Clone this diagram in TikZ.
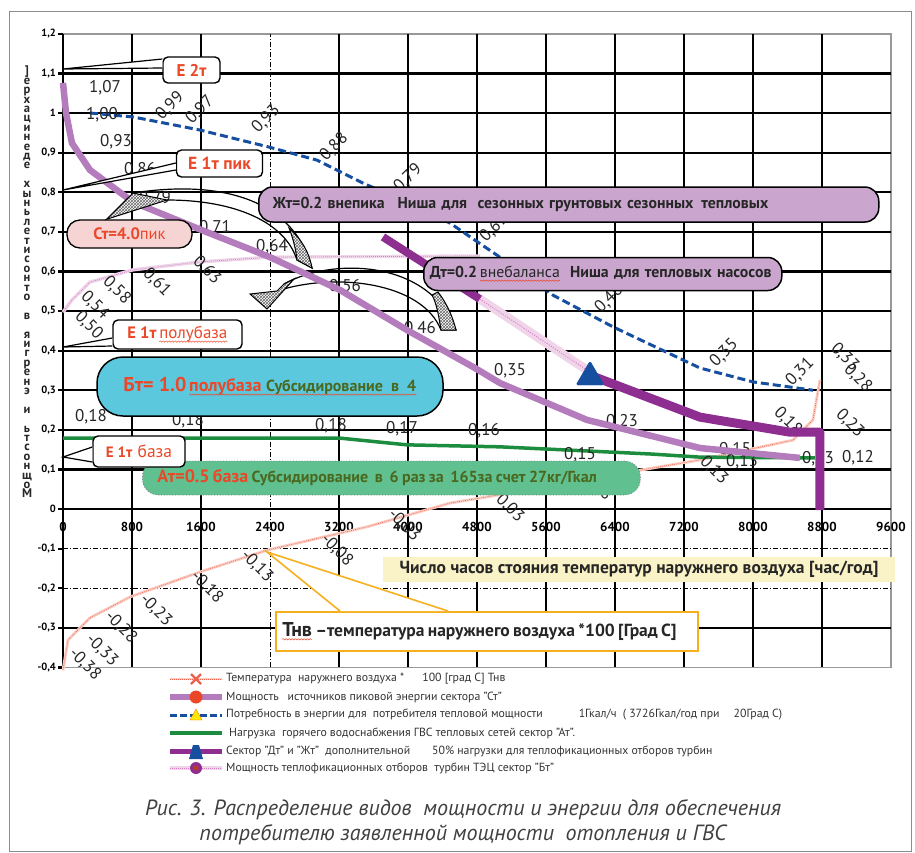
\documentclass[tikz,border=0pt]{standalone}
\usepackage{fontspec}
\setmainfont{PT Sans}
\usetikzlibrary{positioning,calc,patterns,decorations.pathmorphing}

\definecolor{peakPurple}{RGB}{180,124,188}
\definecolor{demandBlue}{RGB}{22,78,160}
\definecolor{gvsGreen}{RGB}{28,140,62}
\definecolor{extraPurple}{RGB}{142,46,144}
\definecolor{tecPink}{RGB}{240,212,234}
\definecolor{tecPinkDot}{RGB}{214,130,196}
\definecolor{tempSalmon}{RGB}{250,204,194}
\definecolor{tempRed}{RGB}{236,96,76}
\definecolor{calloutRed}{RGB}{234,72,40}
\definecolor{subsGreen}{RGB}{74,104,30}
\definecolor{lavBox}{RGB}{202,166,206}
\definecolor{cyanBox}{RGB}{92,200,222}
\definecolor{greenBox}{RGB}{96,192,144}
\definecolor{pinkBox}{RGB}{246,212,212}
\definecolor{yellowBox}{RGB}{250,243,200}
\definecolor{tnvOrange}{RGB}{246,176,30}

% red wavy underline (inner node reset so it does not inherit the box options)
\newcommand\wavy[1]{\tikz[baseline=(w.base)]{\node[shape=rectangle, draw=none, fill=none, inner sep=0pt, outer sep=0pt,
    minimum width=0pt, minimum height=0pt, text width=, align=none, rotate=0] (w) {#1};
  \draw[solid, sharp corners, calloutRed, line width=0.5pt, fill=none, decorate,
        decoration={snake,amplitude=0.7pt,segment length=3pt}]
    ([yshift=-2.8pt]w.base west) -- ([yshift=-2.8pt]w.base east);}}

\tikzset{
  GridLine/.style = {line width=2.2pt, black},
  GridDash/.style = {line width=0.6pt, black, dash pattern=on 5pt off 2pt on 1pt off 2pt},
  FrameLine/.style = {line width=1.6pt, black!40},
  YTick/.style = {anchor=east, inner sep=0pt, font=\fontsize{10.5}{10.5}\selectfont\bfseries},
  XTick/.style = {inner sep=0pt, font=\fontsize{13}{13}\selectfont\bfseries},
  YTitle/.style = {align=center, inner sep=0pt, font=\fontsize{12.5}{9.4}\selectfont\bfseries, text=black!85},
  ValLabel/.style = {inner sep=0pt, font=\fontsize{17}{17}\selectfont, text=black!85},
  RotUp/.style = {ValLabel, rotate=45},
  RotDown/.style = {ValLabel, rotate=-45},
  TempLine/.style = {preaction={draw=tempSalmon, line width=2.8pt}, draw=tempRed, line width=0.6pt, dash pattern=on 0.8pt off 1.2pt},
  TecLine/.style = {preaction={draw=tecPink, line width=3.4pt}, draw=tecPinkDot, line width=0.7pt, dash pattern=on 0.8pt off 1.2pt},
  TecBand/.style = {preaction={draw=tecPink, line width=9pt}, draw=tecPinkDot, line width=1pt, dash pattern=on 1pt off 1.5pt},
  PeakLine/.style = {peakPurple, line width=6.5pt, line join=round},
  DemandLine/.style = {demandBlue, line width=3pt, dash pattern=on 8pt off 4pt},
  GvsLine/.style = {gvsGreen, line width=3.5pt, line join=round},
  ExtraLine/.style = {extraPurple, line width=9pt, line join=round},
  ArcLine/.style = {black, line width=1.2pt},
  HatchArrow/.style = {draw=black, line width=1pt, preaction={fill=white}, pattern=crosshatch, pattern color=black!60},
  NicheBox/.style = {draw=black, line width=1.5pt, fill=lavBox, rounded corners=14pt, anchor=west, align=left,
                     inner xsep=14pt, inner ysep=0pt, font=\fontsize{15.8}{16}\selectfont\bfseries, text=black!85},
  CallBox/.style = {draw=black, line width=1.4pt, fill=white, rounded corners=5pt, inner sep=0pt, text=calloutRed},
  CallTail/.style = {draw=black, line width=1.2pt, fill=white},
  LegText/.style = {anchor=west, inner sep=0pt, font=\fontsize{11.8}{11.8}\selectfont, text=black!80},
}

\begin{document}
\begin{tikzpicture}[x=1pt,y=-1pt]
\useasboundingbox (0,0) rectangle (915,852);
\draw[black!45, line width=0.8pt] (9,11) rectangle (911,851);

% chart in data units: hours / relative power
\begin{scope}[shift={(63pt,-509pt)}, x=0.08625pt, y=396pt]
  \draw[FrameLine] (0,-0.4) rectangle (9600,1.2);
  \foreach \h in {800,1600,3200,4000,4800,5600,6400,7200,8000,8800}
    \draw[GridLine] (\h,-0.4) -- (\h,1.2);
  \draw[GridDash] (2400,-0.4) -- (2400,1.2);
  \foreach \k in {1,...,11}
    \draw[GridLine] (0,\k/10) -- (9600,\k/10);
  \draw[GridLine] (0,-0.3) -- (9600,-0.3);
  \foreach \k in {1,2}
    \draw[GridDash] (0,-\k/10) -- (9600,-\k/10);
  \foreach \k in {-4,...,12}
    \draw[GridLine] (-55,\k/10) -- (0,\k/10);
  \draw[GridLine, line width=2.6pt] (0,-0.4) -- (0,1.2);
  \draw[GridLine, line width=2.6pt] (0,0) -- (9600,0);

  \foreach \k/\t in {12/{1,2},11/{1,1},10/1,9/{0,9},8/{0,8},7/{0,7},6/{0,6},5/{0,5},4/{0,4},3/{0,3},2/{0,2},1/{0,1},0/0,-1/{-0,1},-2/{-0,2},-3/{-0,3},-4/{-0,4}}
    \node[YTick] (yt\k) at (-80,\k/10) {\t};
  \foreach \h in {0,800,...,9600}
    \node[XTick] (xt\h) at (\h,-0.045) {\h};

  % series
  \draw[TempLine] plot coordinates {(0,-0.407) (58,-0.331) (197,-0.30) (313,-0.275) (777,-0.222) (1588,-0.159)
    (2365,-0.104) (3525,-0.045) (4487,0.015) (5530,0.053) (6690,0.098) (7386,0.124) (8464,0.174) (8696,0.225) (8777,0.326)};
  \draw[TecLine] plot coordinates {(0,0.497) (104,0.528) (313,0.573) (812,0.604) (1588,0.624) (2400,0.636) (4835,0.639)};
  \draw[GvsLine] plot coordinates {(0,0.179) (3212,0.179) (3988,0.162) (5067,0.157) (6806,0.139) (7386,0.131) (8719,0.129)};
  \draw[DemandLine] plot coordinates {(313,1.0) (812,0.99) (1588,0.957) (2388,0.914) (2945,0.881) (3478,0.823) (4104,0.763)
    (4487,0.722) (5032,0.641) (5681,0.540) (6377,0.460) (7386,0.356) (8000,0.321) (8696,0.30)};
\end{scope}

% value labels
\foreach \px/\py/\t [count=\i] in {105/88/{1,07},116/142/{0,93},140/170/{0,86},155/199/{0,79},215/228/{0,71},
    272/247/{0,64},345/287/{0,56},420/329/{0,46},510/371/{0,35},622/422/{0,23},735/450/{0,15}}
  \node[ValLabel] (stVal\i) at (\px,\py) {\t};
\foreach \px/\py/\t [count=\i] in {91/417/{0,18},188/421/{0,18},331/426/{0,18},402/429/{0,17},484/431/{0,16},
    580/455/{0,15},742/462/{0,13},818/459/{0,13},858/458/{0,12}}
  \node[ValLabel] (atVal\i) at (\px,\py) {\t};
\node[ValLabel] (dmVal0) at (102,115) {1,00};
\foreach \px/\py/\t [count=\i] in {170/106/{0,99},200/110/{0,97},266/119/{0,93},334/147/{0,88},408/178/{0,79},
    494/228/{0,61},609/299/{0,46},724/353/{0,35},800/372/{0,31}}
  \node[RotUp] (dmVal\i) at (\px,\py) {\t};
\foreach \px/\py/\t [count=\i] in {845/357/{0,33},858/378/{0,28},850/423/{0,23},788/421/{0,18},714/470/{0,13},
    598/486/{0,08},510/508/{0,03},404/525/{-0,03},337/550/{-0,08},257/566/{-0,13},207/587/{-0,18},
    156/610/{-0,23},121/627/{-0,28},102/650/{-0,33},85/664/{-0,38}}
  \node[RotDown] (tnVal\i) at (\px,\py) {\t};
\foreach \px/\py/\t [count=\i] in {89/325/{0,50},95/305/{0,54},117/290/{0,58},157/282/{0,61},207/270/{0,63}}
  \node[RotDown] (btVal\i) at (\px,\py) {\t};

% curved arrows
\draw[ArcLine] (133,193) .. controls (230,178) and (295,205) .. (312,268) -- (297,260)
  .. controls (285,222) and (235,200) .. (167,200);
\draw[HatchArrow] (289,228) .. controls (302,240) and (309,252) .. (312,268) -- (297,260)
  .. controls (296,250) and (293,238) .. (289,228) -- cycle;
\draw[ArcLine] (284,284) .. controls (330,258) and (428,258) .. (456,330) -- (441,330)
  .. controls (422,282) and (335,272) .. (277,291);
\draw[HatchArrow] (250,294) -- (267,309) -- (294,279) -- (284,284) -- (277,291) -- cycle;
\draw[HatchArrow] (438,292) .. controls (448,305) and (453,318) .. (456,330) -- (441,330)
  .. controls (439,318) and (437,304) .. (432,295) -- cycle;

\begin{scope}[shift={(63pt,-509pt)}, x=0.08625pt, y=396pt]
  \draw[PeakLine] plot coordinates {(0,1.076) (35,1.0) (104,0.924) (313,0.856) (812,0.775) (1600,0.705) (2400,0.636)
    (3212,0.553) (3988,0.452) (4777,0.356) (5067,0.318) (6075,0.225) (7386,0.154) (8545,0.129)};
  \draw[ExtraLine, line width=8pt] (3710,0.687) -- (4835,0.530);
  \draw[TecBand] (4835,0.530) -- (6110,0.346);
  \draw[ExtraLine] plot coordinates {(6110,0.338) (7386,0.232) (8429,0.194) (8777,0.194) (8777,-0.003)};
\end{scope}
\filldraw[demandBlue, rounded corners=1.5pt] (576,385) -- (604,385) -- (590,361) -- cycle;

% boxes
\node[NicheBox, text width=592pt, minimum height=35pt] (zhBox) at (258,204.5)
  {Жт=0.2 внепика\hspace{13pt}Ниша для\ \ сезонных грунтовых сезонных\hspace{8pt}тепловых};
\node[NicheBox, text width=346pt, minimum height=33pt, inner xsep=6pt] (dtBox) at (423,274)
  {Дт=0.2\,\wavy{\mdseries внебаланса}\hspace{10pt}Ниша для тепловых насосов};
\node[draw=black, line width=1.5pt, fill=cyanBox, rounded corners=26pt, minimum width=346pt, minimum height=59pt,
      inner sep=0pt, font=\bfseries, text=calloutRed] (btBox) at (270,386.5)
  {{\fontsize{20}{20}\selectfont Бт= 1.0} \wavy{\fontsize{18}{18}\selectfont полубаза
   \textcolor{subsGreen}{\fontsize{16}{16}\selectfont Субсидирование\ \ в\ \ 4}}};
\node[draw=black!50, line width=0.8pt, dotted, fill=greenBox, rounded corners=16pt, anchor=west, align=left,
      inner xsep=15pt, inner ysep=0pt, minimum height=34pt, text width=468pt, font=\bfseries, text=calloutRed] (atBox) at (142,478)
  {{\fontsize{18}{18}\selectfont Ат=0.5 база}
   \textcolor{subsGreen}{\fontsize{16}{16}\selectfont Субсидирование\ \ в\ \ 6 раз за\ \ 165за счет 27кг/Гкал}};
\node[draw=black, line width=1.3pt, fill=pinkBox, rounded corners=13pt, minimum width=125pt, minimum height=28pt,
      inner sep=0pt, font=\fontsize{16.5}{16.5}\selectfont\bfseries, text=calloutRed] (stBox) at (129.5,234)
  {Ст=4.0{\mdseries пик}};
\draw[HatchArrow] ($(stBox.north west)+(40,0)$) -- (133,193) -- (167,200) -- cycle;

% callouts
\node[CallBox, minimum width=57pt, minimum height=26pt, font=\fontsize{17}{17}\selectfont\bfseries] (e2Call) at (191.5,70) {Е 2т};
\coordinate (e2Tip) at (63,69);
\draw[CallTail] ($(e2Call.west)+(0,-11)$) -- (e2Tip) -- ($(e2Call.west)+(0,-2)$);
\node[CallBox, minimum width=86pt, minimum height=27pt, font=\fontsize{17.5}{17.5}\selectfont\bfseries] (e1PikCall) at (219.5,163.5) {Е 1т пик};
\coordinate (e1PikTip) at (63,190);
\draw[CallTail] ($(e1PikCall.west)+(0,-0.5)$) -- (e1PikTip) -- ($(e1PikCall.west)+(0,6.5)$);
\node[CallBox, minimum width=129pt, minimum height=29pt] (e1HalfCall) at (177.5,334.5)
  {{\fontsize{16.5}{16.5}\selectfont\bfseries Е 1т} \wavy{\fontsize{17}{17}\selectfont полубаза}};
\coordinate (e1HalfTip) at (63,347);
\draw[CallTail] ($(e1HalfCall.west)+(0,3.5)$) -- (e1HalfTip) -- ($(e1HalfCall.west)+(0,11.5)$);
\node[CallBox, minimum width=92pt, minimum height=31pt] (e1BaseCall) at (139,451.5)
  {{\fontsize{15}{15}\selectfont\bfseries Е 1т}\ \ {\fontsize{17.5}{17.5}\selectfont база}};
\coordinate (e1BaseTip) at (63,457);
\draw[CallTail] ($(e1BaseCall.west)+(0,-4.5)$) -- (e1BaseTip) -- ($(e1BaseCall.west)+(0,10.5)$);

\node[fill=yellowBox, minimum width=512pt, minimum height=25pt, inner sep=0pt,
      font=\fontsize{17.5}{17.5}\selectfont\bfseries, text=black!85] (hoursBox) at (639,569.5)
  {Число часов стояния температур наружнего воздуха [час/год]};
\node[draw=tnvOrange, line width=2pt, fill=white, minimum width=422pt, minimum height=39pt, anchor=west, align=left,
      text width=410pt, inner xsep=6pt, font=\bfseries, text=black!85] (tnvBox) at (275,631.5)
  {\wavy{\fontsize{20}{20}\selectfont Тнв}\ {\fontsize{17.5}{17.5}\selectfont –температура наружнего воздуха *100 [Град С]}};
\coordinate (tnvTip) at (267,552);
\draw[draw=tnvOrange, line width=1.6pt, fill=white] ($(tnvBox.north west)+(65,0)$) -- (tnvTip) -- ($(tnvBox.north west)+(173,0)$);

% y title
\node[YTitle] (yTitle) at (27,282) {]\\е\\р\\х\\а\\ц\\и\\н\\е\\д\\е\\~\\х\\ы\\н\\ь\\л\\е\\т\\и\\с\\о\\н\\т\\о\\~\\в\\~\\я\\и\\г\\р\\е\\н\\э\\~\\и\\~\\ь\\т\\с\\о\\н\\щ\\о\\М};

% legend
\draw[TempLine] (170,679) -- (222,679);
\draw[tempRed, line width=2.4pt] (191,674) -- (201,684) (191,684) -- (201,674);
\node[LegText] (leg1) at (226,679) {Температура\ \ наружнего воздуха *\hspace{18pt}100 [град С] Тнв};
\draw[PeakLine, line width=6pt] (170,697) -- (222,697);
\fill[calloutRed] (196,697) circle[radius=6.5pt];
\node[LegText] (leg2) at (226,697) {Мощность\hspace{9pt}источников пиковой энергии сектора "Ст"};
\draw[DemandLine, dash pattern=on 7pt off 3pt] (170,715) -- (222,715);
\filldraw[fill=yellow!90!orange, draw=orange] (190,720) -- (202,720) -- (196,709) -- cycle;
\node[LegText] (leg3) at (226,715) {Потребность в энергии для\ \ потребителя тепловой мощности\hspace{36pt}1Гкал/ч\ \ ( 3726Гкал/год при\hspace{14pt}20Град С)};
\draw[GvsLine, line width=4.5pt] (170,733) -- (222,733);
\node[LegText] (leg4) at (229,733) {Нагрузка\ \ горячего водоснабжения ГВС тепловых сетей сектор "Ат".};
\draw[ExtraLine, line width=5pt] (170,751) -- (222,751);
\fill[demandBlue] (189,759) -- (203,759) -- (199,745) -- (193,745) -- cycle;
\node[LegText] (leg5) at (226,751) {Сектор "Дт" и "Жт"\ \ дополнительной\hspace{22pt}50\% нагрузки для теплофикационных отборов турбин};
\draw[TecLine] (170,768) -- (222,768);
\fill[extraPurple] (196,768) circle[radius=6pt];
\fill[calloutRed!80!black] (196,768) circle[radius=2.5pt];
\node[LegText] (leg6) at (226,768) {Мощность теплофикационных отборов\ \ турбин ТЭЦ сектор "Бт"};

% caption
\node[align=center, inner sep=0pt, font=\fontsize{22}{25}\selectfont\itshape, text=black!75] (caption) at (463,822)
  {Рис. 3. Распределение видов\ \ мощности и энергии для обеспечения\\потребителю заявленной мощности\ \ отопления и ГВС};
\end{tikzpicture}
\end{document}
